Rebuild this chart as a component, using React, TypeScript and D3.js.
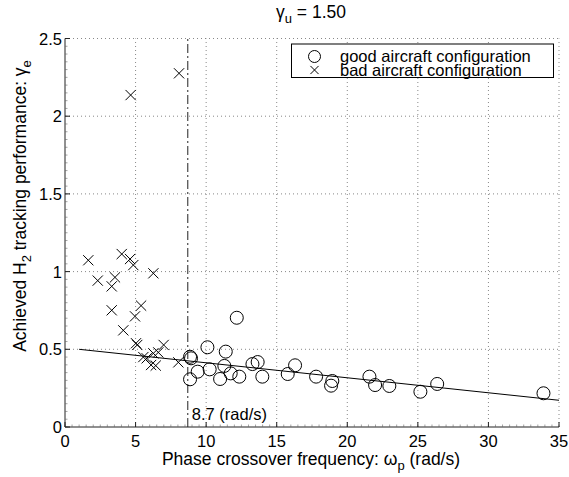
import { useEffect, useRef } from 'react'
import * as d3 from 'd3'

// good aircraft configuration (circles): [omega_p, gamma_e]
const goodX = [8.86, 8.93, 8.86, 9.4, 10.09, 10.25, 10.99, 11.29, 11.39, 11.74, 12.17, 12.35, 13.28, 13.65, 13.98, 15.78, 16.3, 17.79, 18.94, 18.85, 21.57, 21.97, 22.98, 25.18, 26.37, 33.9]
const goodY = [0.452, 0.442, 0.307, 0.356, 0.513, 0.371, 0.309, 0.393, 0.485, 0.345, 0.703, 0.324, 0.405, 0.418, 0.324, 0.341, 0.397, 0.324, 0.296, 0.266, 0.324, 0.27, 0.264, 0.227, 0.277, 0.217]

// bad aircraft configuration (crosses)
const badX = [1.65, 4.02, 4.61, 4.84, 6.26, 2.32, 3.54, 3.31, 3.31, 5.39, 4.96, 4.13, 5.03, 5.12, 5.55, 5.79, 6.26, 6.99, 6.61, 6.1, 6.43, 8.03, 4.65, 8.08]
const badY = [1.073, 1.113, 1.081, 1.042, 0.989, 0.942, 0.963, 0.905, 0.751, 0.781, 0.712, 0.622, 0.539, 0.528, 0.45, 0.442, 0.474, 0.528, 0.48, 0.399, 0.395, 0.416, 2.136, 2.276]

// fitted trend line endpoints
const fitX = [1.0, 35]
const fitY = [0.5, 0.172]

const crossover = 8.7
const xTicks = [0, 5, 10, 15, 20, 25, 30, 35]
const yTicks = [0, 0.5, 1, 1.5, 2, 2.5]
const legendLabels = ['good aircraft configuration', 'bad aircraft configuration']

const FONT = '"Liberation Sans", Arial, Helvetica, sans-serif'
const TICK_FS = 16.5
const LABEL_FS = 17.5
const SUB_FS = 13

export default function App() {
  const ref = useRef<SVGSVGElement>(null)

  useEffect(() => {
    const svg = d3.select(ref.current)
    svg.selectAll('*').remove()

    const left = 65
    const right = 559
    const top = 38.5
    const bottom = 427

    const x = d3.scaleLinear().domain([0, 35]).range([left, right])
    const y = d3.scaleLinear().domain([0, 2.5]).range([bottom, top])

    const g = svg.append('g').attr('font-family', FONT)

    // grid
    g.selectAll('line.gx')
      .data(xTicks.slice(1))
      .join('line')
      .attr('x1', (d) => x(d))
      .attr('x2', (d) => x(d))
      .attr('y1', bottom)
      .attr('y2', top)
      .attr('stroke', '#555')
      .attr('stroke-width', 0.7)
      .attr('stroke-dasharray', '1,3')
    g.selectAll('line.gy')
      .data(yTicks.slice(1))
      .join('line')
      .attr('x1', left)
      .attr('x2', right)
      .attr('y1', (d) => y(d))
      .attr('y2', (d) => y(d))
      .attr('stroke', '#555')
      .attr('stroke-width', 0.7)
      .attr('stroke-dasharray', '1,3')

    // axes
    const axisColor = '#222'
    g.append('line').attr('x1', left).attr('x2', right).attr('y1', bottom).attr('y2', bottom).attr('stroke', axisColor)
    g.append('line').attr('x1', left).attr('x2', left).attr('y1', bottom).attr('y2', top).attr('stroke', axisColor)

    const minorX = d3.range(0, 35.01, 0.5)
    const minorY = d3.range(0, 2.501, 0.05)
    g.selectAll('line.mx')
      .data(minorX)
      .join('line')
      .attr('x1', (d) => x(d))
      .attr('x2', (d) => x(d))
      .attr('y1', bottom)
      .attr('y2', bottom - 2.5)
      .attr('stroke', '#666')
      .attr('stroke-width', 0.6)
    g.selectAll('line.my')
      .data(minorY)
      .join('line')
      .attr('x1', left)
      .attr('x2', left + 2.5)
      .attr('y1', (d) => y(d))
      .attr('y2', (d) => y(d))
      .attr('stroke', '#666')
      .attr('stroke-width', 0.6)

    g.selectAll('line.tx')
      .data(xTicks)
      .join('line')
      .attr('x1', (d) => x(d))
      .attr('x2', (d) => x(d))
      .attr('y1', bottom)
      .attr('y2', bottom - 5)
      .attr('stroke', axisColor)
    g.selectAll('line.ty')
      .data(yTicks)
      .join('line')
      .attr('x1', left)
      .attr('x2', left + 5)
      .attr('y1', (d) => y(d))
      .attr('y2', (d) => y(d))
      .attr('stroke', axisColor)

    g.selectAll('text.tx')
      .data(xTicks)
      .join('text')
      .attr('x', (d) => x(d))
      .attr('y', bottom + 19.5)
      .attr('text-anchor', 'middle')
      .attr('font-size', TICK_FS)
      .text((d) => d)
    g.selectAll('text.ty')
      .data(yTicks)
      .join('text')
      .attr('x', left - 3)
      .attr('y', (d) => y(d) + 6)
      .attr('text-anchor', 'end')
      .attr('font-size', TICK_FS)
      .text((d) => d)

    // crossover line
    g.append('line')
      .attr('x1', x(crossover))
      .attr('x2', x(crossover))
      .attr('y1', bottom)
      .attr('y2', top)
      .attr('stroke', '#222')
      .attr('stroke-dasharray', '9,3,2,3')
    g.append('text')
      .attr('x', x(crossover) + 4)
      .attr('y', bottom - 7.5)
      .attr('font-size', TICK_FS)
      .text(`${crossover} (rad/s)`)

    // fit line
    const line = d3
      .line<number>()
      .x((d) => x(d))
      .y((_, i) => y(fitY[i]))
    g.append('path').attr('d', line(fitX)).attr('fill', 'none').attr('stroke', '#000').attr('stroke-width', 1)

    // good points
    g.selectAll('circle.good')
      .data(goodX)
      .join('circle')
      .attr('cx', (d) => x(d))
      .attr('cy', (_, i) => y(goodY[i]))
      .attr('r', 6.5)
      .attr('fill', 'none')
      .attr('stroke', '#000')
      .attr('stroke-width', 1)

    // bad points
    const cross = d3.symbol().type(d3.symbolX).size(70)
    g.selectAll('path.bad')
      .data(badX)
      .join('path')
      .attr('d', cross)
      .attr('transform', (d, i) => `translate(${x(d)},${y(badY[i])})`)
      .attr('fill', 'none')
      .attr('stroke', '#000')
      .attr('stroke-width', 1)

    // legend
    const lg = g.append('g')
    lg.append('rect')
      .attr('x', 291.5)
      .attr('y', 44)
      .attr('width', 262)
      .attr('height', 33.5)
      .attr('fill', '#fff')
      .attr('stroke', '#000')
    lg.append('circle').attr('cx', 314.5).attr('cy', 56.5).attr('r', 6).attr('fill', 'none').attr('stroke', '#000')
    lg.append('path')
      .attr('d', d3.symbol().type(d3.symbolX).size(45))
      .attr('transform', 'translate(314.5,70)')
      .attr('fill', 'none')
      .attr('stroke', '#000')
    lg.selectAll('text')
      .data(legendLabels)
      .join('text')
      .attr('x', 340)
      .attr('y', (_, i) => 61.5 + i * 14)
      .attr('font-size', 16.5)
      .text((d) => d)

    // title
    const title = g.append('text').attr('x', 311).attr('y', 18).attr('text-anchor', 'middle').attr('font-size', LABEL_FS)
    title.append('tspan').text('\u03b3')
    title.append('tspan').attr('dy', 5).attr('font-size', SUB_FS).text('u')
    title.append('tspan').attr('dy', -5).text(' = 1.50')

    // x label
    const xl = g.append('text').attr('x', 311).attr('y', 465).attr('text-anchor', 'middle').attr('font-size', LABEL_FS)
    xl.append('tspan').text('Phase crossover frequency: \u03c9')
    xl.append('tspan').attr('dy', 5).attr('font-size', SUB_FS).text('p')
    xl.append('tspan').attr('dy', -5).text(' (rad/s)')

    // y label
    const yl = g
      .append('text')
      .attr('transform', 'translate(26,206) rotate(-90)')
      .attr('text-anchor', 'middle')
      .attr('font-size', LABEL_FS)
    yl.append('tspan').text('Achieved H')
    yl.append('tspan').attr('dy', 5).attr('font-size', SUB_FS).text('2')
    yl.append('tspan').attr('dy', -5).text(' tracking performance: \u03b3')
    yl.append('tspan').attr('dy', 5).attr('font-size', SUB_FS).text('e')
  }, [])

  return (
    <svg
      ref={ref}
      width={569}
      height={477}
      style={{ position: 'absolute', left: 0, top: 0, background: '#fff' }}
    />
  )
}
